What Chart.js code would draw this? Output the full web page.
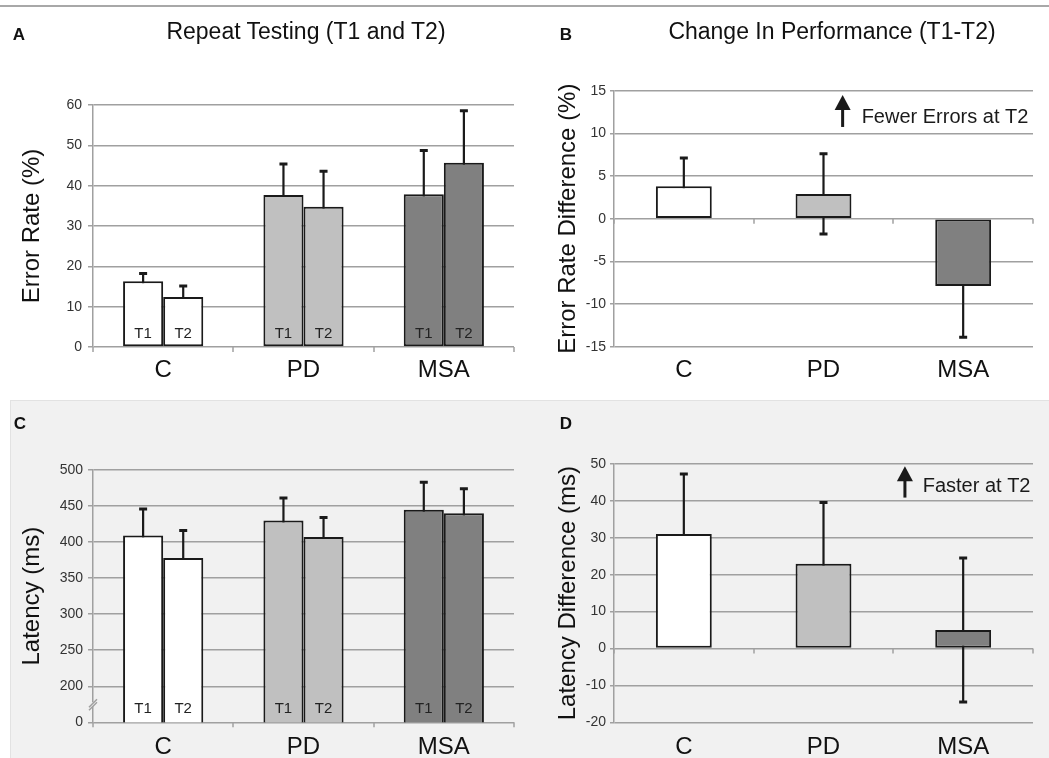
<!DOCTYPE html>
<html>
<head>
<meta charset="utf-8">
<script src="https://cdn.jsdelivr.net/npm/chart.js@4.4.1/dist/chart.umd.min.js"></script>
<style>
  body { margin:0; background:#fff; width:1049px; height:758px; overflow:hidden; position:relative;
         font-family:"Liberation Sans", Arial, sans-serif; color:#111; }
  #topline { position:absolute; left:0; top:5px; width:1049px; height:2px; background:#a8a8a8; }
  #bottombg { position:absolute; left:10px; top:400px; width:1039px; height:358px; background:#f1f1f1;
              border-top:1px solid #e2e2e2; border-left:1px solid #e2e2e2; }
  canvas { position:absolute; }
  .title { position:absolute; font-size:23px; line-height:1; white-space:nowrap; transform:translate(-50%,-50%); }
  .letter { position:absolute; font-size:17px; font-weight:bold; line-height:1; transform:translate(-50%,-50%); }
</style>
</head>
<body>
<div id="topline"></div>
<div id="bottombg"></div>
<canvas id="chartA" width="520" height="380" style="left:0;top:0"></canvas>
<canvas id="chartB" width="529" height="380" style="left:520px;top:0"></canvas>
<canvas id="chartC" width="520" height="378" style="left:0;top:380px"></canvas>
<canvas id="chartD" width="529" height="378" style="left:520px;top:380px"></canvas>
<div class="letter" style="left:19px;top:34px">A</div>
<div class="letter" style="left:566px;top:34px">B</div>
<div class="letter" style="left:20px;top:423px">C</div>
<div class="letter" style="left:566px;top:423px">D</div>
<div class="title" style="left:306px;top:31px">Repeat Testing (T1 and T2)</div>
<div class="title" style="left:832px;top:31px">Change In Performance (T1-T2)</div>
<script>
// ---------- Données ----------
const groups      = ["C", "PD", "MSA"];
const groupColors = ["#ffffff", "#c0c0c0", "#808080"];
const sessions    = ["T1", "T2"];

// A : taux d'erreur (%)
const errT1   = [16.3, 37.7, 37.9];
const errT1Sd = [1.9, 7.7, 10.8];
const errT2   = [12.4, 34.8, 45.7];
const errT2Sd = [2.7, 8.8, 12.9];
// B : différence T1-T2 (%)
const errDiff   = [3.8, 2.9, -7.9];
const errDiffSd = [3.3, 4.7, 6.0];
// C : latence (ms)
const latT1   = [409, 430, 445];
const latT1Sd = [37, 31, 38];
const latT2   = [378, 407, 440];
const latT2Sd = [38, 27, 34];
// D : différence de latence (ms)
const latDiff   = [31, 23, 5];
const latDiffSd = [16.3, 16.6, 19.5];

const latBreak = 150; // axe coupé : 150 affiché comme 0

const FONT = "'Liberation Sans', Arial, sans-serif";
const GRID = "#a0a0a0";
const INK  = "#1a1a1a";

// ---------- Plugins ----------
const errorBars = {
  id: "errorBars",
  beforeDatasetsDraw(chart) {
    const ctx = chart.ctx, y = chart.scales.y;
    chart.data.datasets.forEach((ds, di) => {
      const meta = chart.getDatasetMeta(di);
      meta.data.forEach((bar, i) => {
        const v = ds.data[i], sd = ds.errors[i];
        const yHi = y.getPixelForValue(v + sd), yLo = y.getPixelForValue(v - sd);
        ctx.save();
        ctx.strokeStyle = INK; ctx.lineWidth = 2.2;
        ctx.beginPath(); ctx.moveTo(bar.x, yHi); ctx.lineTo(bar.x, yLo); ctx.stroke();
        ctx.lineWidth = 3;
        ctx.beginPath();
        ctx.moveTo(bar.x - 4, yHi); ctx.lineTo(bar.x + 4, yHi);
        ctx.moveTo(bar.x - 4, yLo); ctx.lineTo(bar.x + 4, yLo);
        ctx.stroke();
        ctx.restore();
      });
    });
  }
};

const barLabels = {
  id: "barLabels",
  afterDatasetsDraw(chart, args, opts) {
    if (!opts.show) return;
    const ctx = chart.ctx, base = chart.scales.y.getPixelForValue(chart.scales.y.min);
    ctx.save();
    ctx.font = "15px " + FONT; ctx.fillStyle = "#222";
    ctx.textAlign = "center"; ctx.textBaseline = "middle";
    chart.data.datasets.forEach((ds, di) => {
      chart.getDatasetMeta(di).data.forEach(bar => ctx.fillText(ds.label, bar.x, base - 13.5));
    });
    ctx.restore();
  }
};

const axisTicks = {
  id: "axisTicks",
  afterDraw(chart, args, opts) {
    const ctx = chart.ctx, x = chart.scales.x, y = chart.scales.y;
    const py = y.getPixelForValue(opts.at);
    ctx.save();
    ctx.strokeStyle = GRID; ctx.lineWidth = 1.5;
    for (let i = 0; i <= groups.length; i++) {
      const px = Math.round(x.getPixelForValue(i - 0.5));
      ctx.beginPath(); ctx.moveTo(px, py); ctx.lineTo(px, py + 5); ctx.stroke();
    }
    if (opts.brk != null) { // petite coupure //
      const by = y.getPixelForValue(opts.brk), bx = chart.chartArea.left;
      ctx.fillStyle = "#f1f1f1"; ctx.fillRect(bx - 3, by - 2, 6, 4);
      ctx.beginPath();
      ctx.moveTo(bx - 4, by + 3); ctx.lineTo(bx + 4, by - 5);
      ctx.moveTo(bx - 4, by + 6); ctx.lineTo(bx + 4, by - 2);
      ctx.stroke();
    }
    ctx.restore();
  }
};

const note = {
  id: "note",
  afterDraw(chart, args, opts) {
    if (!opts.text) return;
    const ctx = chart.ctx, x = chart.scales.x, y = chart.scales.y;
    const ax = x.getPixelForValue(opts.arrowX);
    const tip = y.getPixelForValue(opts.arrowTop), bot = y.getPixelForValue(opts.arrowBottom);
    ctx.save();
    ctx.fillStyle = INK;
    ctx.fillRect(ax - 1.5, tip + 12, 3, bot - tip - 12);
    ctx.beginPath(); ctx.moveTo(ax, tip); ctx.lineTo(ax + 8, tip + 15); ctx.lineTo(ax - 8, tip + 15); ctx.closePath(); ctx.fill();
    ctx.font = "20px " + FONT; ctx.textAlign = "left"; ctx.textBaseline = "middle";
    ctx.fillText(opts.text, x.getPixelForValue(opts.textX), y.getPixelForValue(opts.textY));
    ctx.restore();
  }
};

// ---------- Options ----------
function makeOptions(c) {
  return {
    responsive: false,
    animation: false,
    layout: { padding: { left: c.padLeft, top: c.top, right: c.padRight, bottom: 0 } },
    plugins: {
      legend: { display: false },
      tooltip: { enabled: false },
      barLabels: { show: !!c.labels },
      axisTicks: { at: c.axisAt, brk: c.brk },
      note: c.note || {}
    },
    scales: {
      x: {
        grid: { display: false }, border: { display: false },
        ticks: { color: "#111", font: { size: 24, family: FONT }, padding: c.xPad },
        afterFit: s => { s.height = c.xHeight; }
      },
      y: {
        min: c.min, max: c.max,
        ticks: { stepSize: c.step, color: "#333", font: { size: 14, family: FONT }, padding: c.tickPad,
                 callback: c.tickCb || (v => v) },
        grid: { color: GRID, lineWidth: 1.5, tickLength: c.tickLen, tickColor: GRID },
        border: { display: true, color: GRID, width: 1.5 },
        title: { display: true, text: c.title, color: "#111", font: { size: 24, family: FONT }, padding: 0 },
        afterFit: s => { s.width = c.yWidth; }
      }
    }
  };
}

function pairData(a, aSd, b, bSd) {
  return {
    labels: groups,
    datasets: [
      { label: sessions[0], data: a, errors: aSd, backgroundColor: groupColors, borderColor: INK, borderWidth: 2,
        borderSkipped: false, categoryPercentage: 0.5714, barPercentage: 1 },
      { label: sessions[1], data: b, errors: bSd, backgroundColor: groupColors, borderColor: INK, borderWidth: 2,
        borderSkipped: false, categoryPercentage: 0.5714, barPercentage: 1 }
    ]
  };
}
function diffData(d, sd) {
  return {
    labels: groups,
    datasets: [{ label: "T1-T2", data: d, errors: sd, backgroundColor: groupColors, borderColor: INK, borderWidth: 2,
                 borderSkipped: false, categoryPercentage: 0.4, barPercentage: 1 }]
  };
}

const plugins = [errorBars, barLabels, axisTicks, note];

new Chart(document.getElementById("chartA"), {
  type: "bar", data: pairData(errT1, errT1Sd, errT2, errT2Sd), plugins,
  options: makeOptions({ padLeft: 17.6, yWidth: 75.4, top: 105, padRight: 6, xHeight: 33, xPad: 1,
    min: 0, max: 60, step: 10, tickLen: 5, tickPad: 6, title: "Error Rate (%)", labels: true, axisAt: 0 })
});

new Chart(document.getElementById("chartB"), {
  type: "bar", data: diffData(errDiff, errDiffSd), plugins,
  options: makeOptions({ padLeft: 33.9, yWidth: 60.1, top: 90.7, padRight: 16, xHeight: 33.3, xPad: 1,
    min: -15, max: 15, step: 5, tickLen: 4, tickPad: 4, title: "Error Rate Difference (%)", axisAt: 0,
    note: { text: "Fewer Errors at T2", arrowX: 1.137, arrowTop: 14.5, arrowBottom: 10.75, textX: 1.273, textY: 11.9 } })
});

new Chart(document.getElementById("chartC"), {
  type: "bar", data: pairData(latT1, latT1Sd, latT2, latT2Sd), plugins,
  options: makeOptions({ padLeft: 17.6, yWidth: 75.4, top: 90, padRight: 6, xHeight: 35.7, xPad: 2.5,
    min: latBreak, max: 500, step: 50, tickLen: 5, tickPad: 5, title: "Latency (ms)", labels: true,
    axisAt: latBreak, brk: 175, tickCb: v => (v === latBreak ? "0" : v) })
});

new Chart(document.getElementById("chartD"), {
  type: "bar", data: diffData(latDiff, latDiffSd), plugins,
  options: makeOptions({ padLeft: 33.9, yWidth: 60.1, top: 84, padRight: 16, xHeight: 35.7, xPad: 2.5,
    min: -20, max: 50, step: 10, tickLen: 4, tickPad: 4, title: "Latency Difference (ms)", axisAt: 0,
    note: { text: "Faster at T2", arrowX: 1.583, arrowTop: 49.4, arrowBottom: 40.9, textX: 1.71, textY: 44 } })
});
</script>
</body>
</html>
